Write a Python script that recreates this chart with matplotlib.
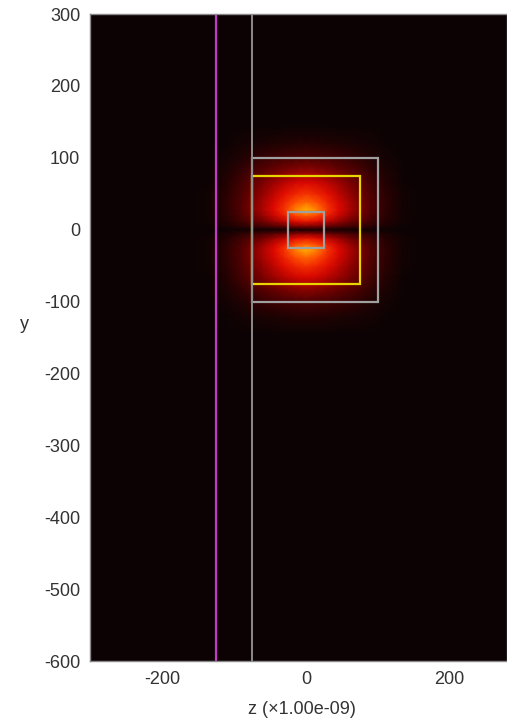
import numpy as np
import matplotlib
matplotlib.use('Agg')
import matplotlib.pyplot as plt
from matplotlib.colors import LinearSegmentedColormap
from matplotlib.patches import Rectangle

plt.rcParams['font.family'] = ['Liberation Sans', 'DejaVu Sans']
plt.rcParams['axes.unicode_minus'] = False

# field intensity, one quadrant (z >= 0, y >= 0)
z_nodes = [0, 15, 30, 45, 60, 75, 90, 110, 135, 160, 300]
y_nodes = [0, 5, 12, 20, 28, 38, 50, 65, 80, 100, 120, 145, 600]
intensity = [
    [0.04, 0.04, 0.04, 0.03, 0.03, 0.02, 0.02, 0.01, 0.00, 0, 0],
    [0.35, 0.33, 0.28, 0.23, 0.18, 0.14, 0.10, 0.05, 0.01, 0, 0],
    [0.60, 0.56, 0.48, 0.40, 0.32, 0.25, 0.17, 0.08, 0.02, 0, 0],
    [0.80, 0.74, 0.61, 0.50, 0.40, 0.31, 0.21, 0.10, 0.02, 0, 0],
    [0.95, 0.86, 0.68, 0.55, 0.44, 0.34, 0.23, 0.11, 0.02, 0, 0],
    [0.82, 0.76, 0.64, 0.53, 0.43, 0.33, 0.23, 0.11, 0.02, 0, 0],
    [0.68, 0.64, 0.57, 0.48, 0.39, 0.31, 0.21, 0.10, 0.02, 0, 0],
    [0.54, 0.52, 0.47, 0.41, 0.34, 0.27, 0.18, 0.08, 0.01, 0, 0],
    [0.40, 0.38, 0.35, 0.31, 0.26, 0.20, 0.13, 0.06, 0.01, 0, 0],
    [0.20, 0.19, 0.18, 0.16, 0.13, 0.10, 0.07, 0.03, 0.00, 0, 0],
    [0.08, 0.08, 0.07, 0.06, 0.05, 0.04, 0.03, 0.01, 0.00, 0, 0],
    [0.00, 0.00, 0.00, 0.00, 0.00, 0.00, 0.00, 0.00, 0.00, 0, 0],
    [0.00, 0.00, 0.00, 0.00, 0.00, 0.00, 0.00, 0.00, 0.00, 0, 0],
]

# structures (z0, z1, y0, y1)
source_z = -125
region_z = -75
region_box = (-75, 100, -100, 100)
monitor_box = (-75, 75, -75, 75)
particle_box = (-25, 25, -25, 25)

# mirror the quadrant into the full plane
zq = np.array(z_nodes, float)
yq = np.array(y_nodes, float)
iq = np.array(intensity)
z_full = np.concatenate([-zq[:0:-1], zq])
y_full = np.concatenate([-yq[:0:-1], yq])
i_half = np.hstack([iq[:, :0:-1], iq])
i_full = np.vstack([i_half[:0:-1, :], i_half])

cmap = LinearSegmentedColormap.from_list('field', [
    (0.0, '#0c0203'), (0.3, '#6a0000'), (0.55, '#e00800'),
    (0.75, '#ff4a00'), (0.9, '#ff9000'), (1.0, '#ffc800')])

fig = plt.figure(figsize=(5.07, 7.26), dpi=100)
ax = fig.add_axes([90 / 507, 65 / 726, 417 / 507, 647 / 726])
ax.set_facecolor('#0c0203')
Z, Y = np.meshgrid(z_full, y_full)
ax.pcolormesh(Z, Y, i_full, shading='gouraud', cmap=cmap, vmin=0, vmax=1)

ax.axvline(source_z, color='#c838c8', lw=1.6)
ax.axvline(region_z, color='#8c8c8c', lw=1.4)
for box, col in [(region_box, '#a0a0a0'), (monitor_box, '#e8d400'),
                 (particle_box, '#a0a0a0')]:
    z0, z1, y0, y1 = box
    ax.add_patch(Rectangle((z0, y0), z1 - z0, y1 - y0, fill=False,
                           edgecolor=col, lw=1.6))

ax.set_xlim(-301, 280)
ax.set_ylim(-600, 300)
ax.set_xticks([-200, 0, 200])
ax.set_yticks(np.arange(-600, 301, 100))
ax.tick_params(length=0, labelsize=13, labelcolor='#333333', pad=7)
for s in ax.spines.values():
    s.set_color('#888888')
    s.set_linewidth(1)

ax.set_ylabel('y', fontsize=13, color='#333333', rotation=0, va='center')
ax.yaxis.set_label_coords(-0.158, 0.52)
ax.set_xlabel('z (×1.00e-09)', fontsize=13, color='#333333')
ax.xaxis.set_label_coords(0.508, -0.062)

fig.savefig('out.png', dpi=100)
